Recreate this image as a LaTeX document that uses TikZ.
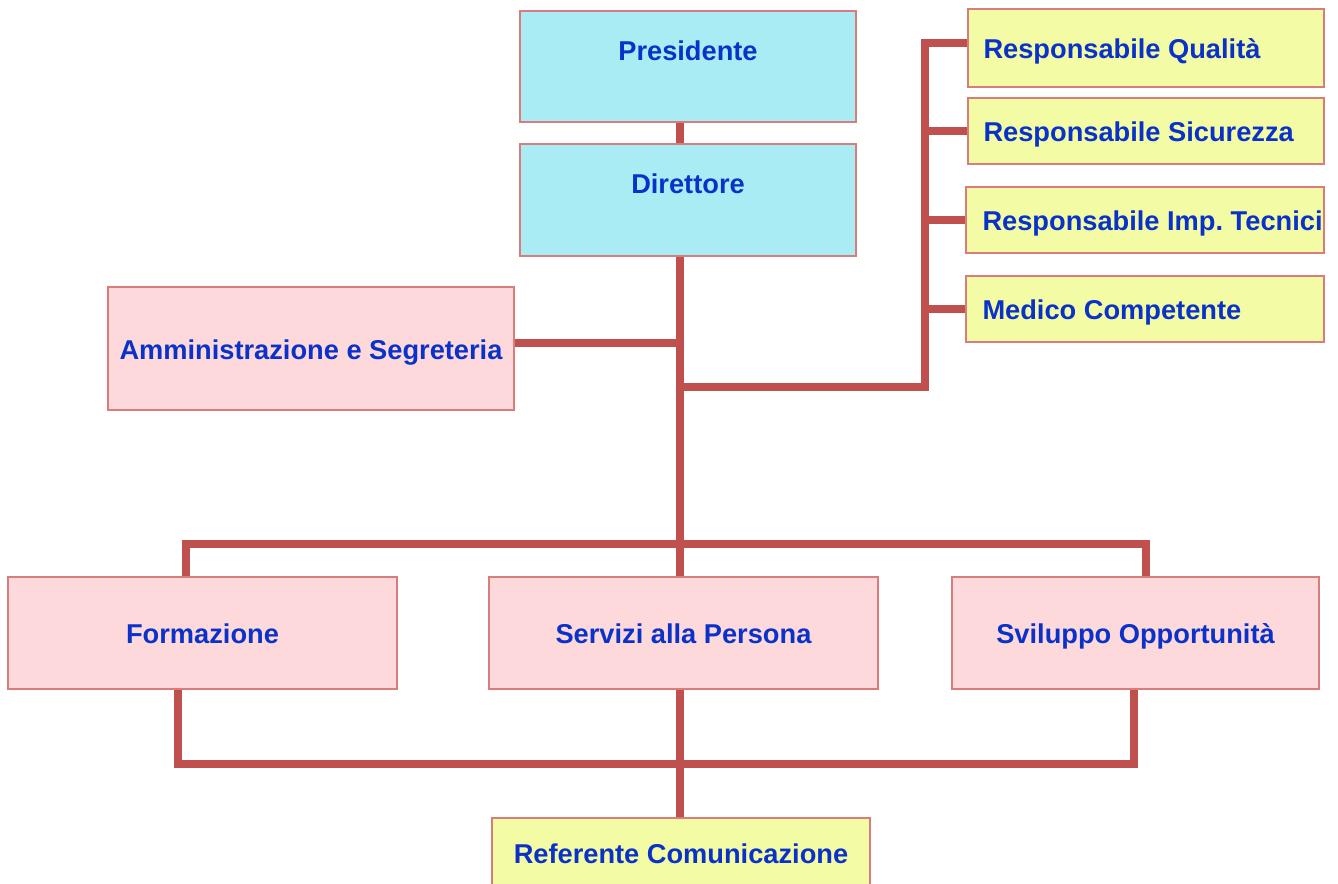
\documentclass[tikz,border=0pt]{standalone}
\usepackage{fontspec}
\setmainfont{Liberation Sans}
\usetikzlibrary{positioning}
\definecolor{linkred}{RGB}{192,80,77}
\definecolor{edgered}{RGB}{216,124,124}
\definecolor{txtblue}{RGB}{10,50,200}
\definecolor{cyanfill}{RGB}{170,236,244}
\definecolor{pinkfill}{RGB}{253,217,220}
\definecolor{yellfill}{RGB}{243,251,165}
\newcommand*\lefttext[1]{\makebox[6.5cm][l]{#1}}

\begin{document}
\begin{tikzpicture}[line join=miter,
    box/.style={draw=edgered,line width=0.9pt,inner sep=0pt,text=txtblue,
        font=\fontsize{15.5}{18}\selectfont\bfseries\frenchspacing,text height=1.35em,text depth=0.15em},
    topbox/.style={box,fill=cyanfill,minimum width=6.72cm,text height=1cm,anchor=north},
    unitbox/.style={box,fill=pinkfill,minimum height=2.24cm},
    staffbox/.style={box,fill=yellfill,minimum height=1.32cm},
    link/.style={linkred,line width=4.5pt}]
\useasboundingbox (0,0) rectangle (26.76,-17.68);

\node[topbox,text depth=1.22cm] (pres) at (13.76,-0.2) {Presidente};
\node[topbox,text depth=1.24cm] (dir) at (13.76,-2.86) {Direttore};
\node[unitbox,minimum width=8.12cm,minimum height=2.46cm] (amm) at (6.22,-6.97) {Amministrazione e Segreteria};

\node[staffbox,minimum width=7.12cm,minimum height=1.56cm] (qual) at (22.92,-0.96) {\lefttext{Responsabile Qualità}};
\node[staffbox,minimum width=7.12cm] (sic) at (22.92,-2.62) {\lefttext{Responsabile Sicurezza}};
\node[staffbox,minimum width=7.16cm] (imp) at (22.9,-4.4) {\lefttext{Responsabile Imp. Tecnici}};
\node[staffbox,minimum width=7.16cm] (med) at (22.9,-6.18) {\lefttext{Medico Competente}};

\node[unitbox,minimum width=7.78cm] (form) at (4.05,-12.66) {Formazione};
\node[unitbox,minimum width=7.78cm] (serv) at (13.67,-12.66) {Servizi alla Persona};
\node[unitbox,minimum width=7.34cm] (svil) at (22.71,-12.66) {Sviluppo Opportunità};

\node[box,fill=yellfill,minimum width=7.56cm,minimum height=1.4cm] (ref) at (13.62,-17.06) {Referente Comunicazione};

% junctions on the trunk
\coordinate (j1) at (13.6,-6.86);
\coordinate (j2) at (13.6,-7.74);
\coordinate (j4) at (13.6,-15.28);
\coordinate (s) at (18.5,-7.74);
\coordinate (bl) at (3.72,-10.88);
\coordinate (br) at (22.92,-10.88);
\coordinate (cl) at (3.56,-15.28);
\coordinate (cr) at (22.68,-15.28);

\draw[link] (pres.south -| j1) -- (dir.north -| j1);
\draw[link] (dir.south -| j1) -- (serv.north -| j1);
\draw[link] (amm.east |- j1) -- (j1);

\draw[link] (j2) -- (s) |- ([yshift=0.1cm]qual.west);
\foreach \n in {sic,imp,med}
    \draw[link] (s |- \n.west) -- (\n.west);

\draw[link] (form.north -| bl) -- (bl) -- (br) -- (svil.north -| br);
\draw[link] (form.south -| cl) -- (cl) -- (cr) -- (svil.south -| cr);
\draw[link] (serv.south -| j4) -- (ref.north -| j4);
\end{tikzpicture}
\end{document}
